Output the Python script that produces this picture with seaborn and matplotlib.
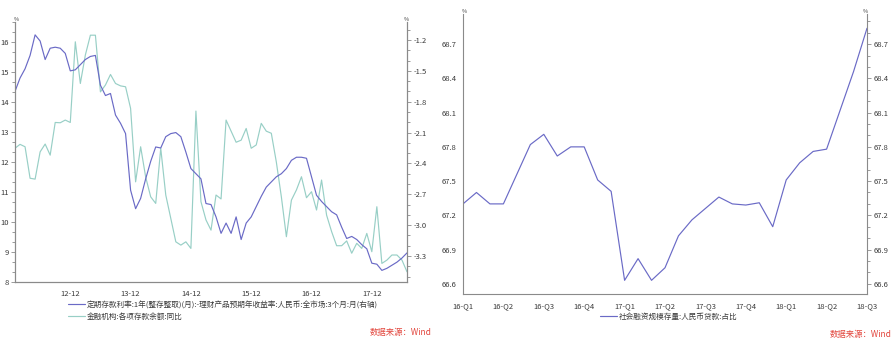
import matplotlib
matplotlib.use('Agg')
import matplotlib.pyplot as plt
import seaborn as sns
import pandas as pd
from matplotlib.ticker import FixedLocator, MultipleLocator
from matplotlib.lines import Line2D

# ---------------- data ----------------
# left chart: monthly 2012-01 .. 2018-07 (month index 0..78)
spread_right = [-1.70, -1.57, -1.48, -1.35, -1.15, -1.21, -1.39, -1.28, -1.27, -1.28,
                -1.33, -1.50, -1.49, -1.44, -1.39, -1.36, -1.35, -1.64, -1.74, -1.72,
                -1.93, -2.01, -2.11, -2.66, -2.84, -2.74, -2.55, -2.38, -2.24, -2.25,
                -2.14, -2.11, -2.10, -2.14, -2.29, -2.45, -2.50, -2.55, -2.79, -2.80,
                -2.92, -3.08, -2.98, -3.08, -2.92, -3.14, -2.98, -2.92, -2.82, -2.72,
                -2.63, -2.58, -2.53, -2.50, -2.45, -2.37, -2.34, -2.34, -2.35, -2.53,
                -2.71, -2.77, -2.82, -2.87, -2.90, -3.02, -3.13, -3.11, -3.14, -3.19,
                -3.23, -3.37, -3.38, -3.44, -3.42, -3.39, -3.36, -3.32, -3.27]
deposit_yoy = [12.46, 12.59, 12.51, 11.46, 11.43, 12.34, 12.60, 12.23, 13.32, 13.31,
               13.40, 13.32, 16.01, 14.62, 15.57, 16.23, 16.23, 14.34, 14.57, 14.92,
               14.62, 14.54, 14.51, 13.79, 11.34, 12.51, 11.50, 10.84, 10.62, 12.46,
               10.90, 10.12, 9.34, 9.23, 9.34, 9.12, 13.70, 10.68, 10.07, 9.73,
               10.90, 10.77, 13.40, 13.03, 12.66, 12.73, 13.12, 12.46, 12.57, 13.29,
               13.03, 12.96, 12.00, 10.84, 9.51, 10.73, 11.07, 11.51, 10.81, 11.01,
               10.40, 11.40, 10.23, 9.68, 9.21, 9.21, 9.37, 8.96, 9.29, 9.12,
               9.62, 9.01, 10.51, 8.62, 8.73, 8.90, 8.90, 8.73, 8.34]
left_months = list(range(len(deposit_yoy)))
left_tick_pos = [11, 23, 35, 47, 59, 71]
left_tick_labels = ['12-12', '13-12', '14-12', '15-12', '16-12', '17-12']
left_yticks = [8, 9, 10, 11, 12, 13, 14, 15, 16]
right_yticks = [-3.3, -3.0, -2.7, -2.4, -2.1, -1.8, -1.5, -1.2]
label_spread = '定期存款利率:1年(整存整取)(月):-理财产品预期年收益率:人民币:全市场:3个月:月(右轴)'
label_deposit = '金融机构:各项存款余额:同比'

# right chart: monthly 2016-01 .. 2018-07 (month index 0..30)
loan_share = [67.30, 67.40, 67.30, 67.30, 67.56, 67.82, 67.91, 67.72, 67.80, 67.80,
              67.51, 67.41, 66.63, 66.82, 66.63, 66.74, 67.02, 67.16, 67.26, 67.36,
              67.30, 67.29, 67.31, 67.10, 67.51, 67.66, 67.76, 67.78, 68.12, 68.46, 68.84]
share_months = list(range(len(loan_share)))
q_tick_labels = ['16-Q1', '16-Q2', '16-Q3', '16-Q4', '17-Q1', '17-Q2', '17-Q3',
                 '17-Q4', '18-Q1', '18-Q2', '18-Q3']
share_yticks = [66.6, 66.9, 67.2, 67.5, 67.8, 68.1, 68.4, 68.7]
label_share = '社会融资规模存量:人民币贷款:占比'
source_text = '数据来源：Wind'

# ---------------- style ----------------
sns.set_theme(style='white')
plt.rcParams['font.family'] = ['Noto Sans CJK SC', 'DejaVu Sans']
plt.rcParams['axes.unicode_minus'] = False

DARK = '#6a6ac6'
TEAL = '#98cfc6'
SPINE = '#8a8a8a'
TXT = '#3a3a3a'
FS = 5.5
LW = 0.85

W, H = 896, 344
fig = plt.figure(figsize=(W / 100, H / 100), dpi=100)
fig.patch.set_facecolor('white')


def style_axis(ax):
    ax.spines['top'].set_visible(False)
    for s in ['left', 'right', 'bottom']:
        ax.spines[s].set_color(SPINE)
        ax.spines[s].set_linewidth(0.8)
    ax.tick_params(which='both', direction='out', color=SPINE, width=0.6,
                   labelsize=FS, labelcolor=TXT, pad=1.5)
    ax.tick_params(which='major', length=3)
    ax.tick_params(which='minor', length=2)
    ax.grid(False)


# ---------- left chart ----------
ax1 = fig.add_axes([15 / W, 1 - 282 / H, 392 / W, 260 / H])
ax1r = ax1.twinx()
df_left = pd.DataFrame({'m': left_months, 'dep': deposit_yoy, 'spr': spread_right})
sns.lineplot(data=df_left, x='m', y='dep', ax=ax1, color=TEAL, lw=LW)
sns.lineplot(data=df_left, x='m', y='spr', ax=ax1r, color=DARK, lw=LW)

ax1.set_xlim(0, 78)
ax1.set_ylim(8, 16.67)
ax1r.set_ylim(-3.553, -1.025)
for a in (ax1, ax1r):
    style_axis(a)
    a.set_xlabel('')
    a.set_ylabel('')
ax1.set_xticks(left_tick_pos)
ax1.set_xticklabels(left_tick_labels)
ax1.xaxis.set_minor_locator(FixedLocator(list(range(2, 79, 3))))
ax1.set_yticks(left_yticks)
ax1.set_yticklabels([str(v) for v in left_yticks])
ax1.yaxis.set_minor_locator(MultipleLocator(1 / 3))
ax1.tick_params(axis='x', pad=3)
ax1r.set_yticks(right_yticks)
ax1r.set_yticklabels(['%.1f' % v for v in right_yticks])
ax1r.yaxis.set_minor_locator(MultipleLocator(0.1))
ax1.text(0.003, 1.0, '%', transform=ax1.transAxes, fontsize=4, color=TXT,
         ha='center', va='bottom')
ax1.text(0.997, 1.0, '%', transform=ax1.transAxes, fontsize=4, color=TXT,
         ha='center', va='bottom')

handles = [Line2D([], [], color=DARK, lw=LW), Line2D([], [], color=TEAL, lw=LW)]
fig.legend(handles, [label_spread, label_deposit], loc='upper left',
           bbox_to_anchor=(68 / W, 1 - 301 / H), frameon=False, fontsize=FS,
           borderpad=0, borderaxespad=0, handlelength=2.2, handletextpad=0.3,
           labelspacing=0.45, labelcolor=TXT)
fig.text(370 / W, 1 - 333 / H, source_text, color='#e2453c', fontsize=6,
         style='italic', va='center', ha='left')

# ---------- right chart ----------
ax2 = fig.add_axes([463 / W, 1 - 294 / H, 404 / W, 280 / H])
df_right = pd.DataFrame({'m': share_months, 'v': loan_share})
sns.lineplot(data=df_right, x='m', y='v', ax=ax2, color=DARK, lw=LW)
style_axis(ax2)
ax2.set_xlabel('')
ax2.set_ylabel('')
ax2.set_xlim(0, 30)
ax2.set_ylim(66.51, 68.965)
ax2.set_xticks(list(range(0, 31, 3)))
ax2.set_xticklabels(q_tick_labels)
ax2.xaxis.set_minor_locator(MultipleLocator(1))
ax2.set_yticks(share_yticks)
ax2.set_yticklabels(['%.1f' % v for v in share_yticks])
ax2.yaxis.set_minor_locator(MultipleLocator(0.1))
ax2.tick_params(axis='y', which='both', right=True, labelright=True)
ax2.tick_params(axis='x', pad=3)
ax2.text(0.003, 1.0, '%', transform=ax2.transAxes, fontsize=4, color=TXT,
         ha='center', va='bottom')
ax2.text(0.997, 1.0, '%', transform=ax2.transAxes, fontsize=4, color=TXT,
         ha='center', va='bottom')
fig.legend([Line2D([], [], color=DARK, lw=LW)], [label_share], loc='upper left',
           bbox_to_anchor=(600 / W, 1 - 313 / H), frameon=False, fontsize=FS,
           borderpad=0, borderaxespad=0, handlelength=2.2, handletextpad=0.3,
           labelcolor=TXT)
fig.text(830 / W, 1 - 334 / H, source_text, color='#e2453c', fontsize=6,
         style='italic', va='center', ha='left')

fig.savefig('out.png', dpi=100, facecolor='white')
